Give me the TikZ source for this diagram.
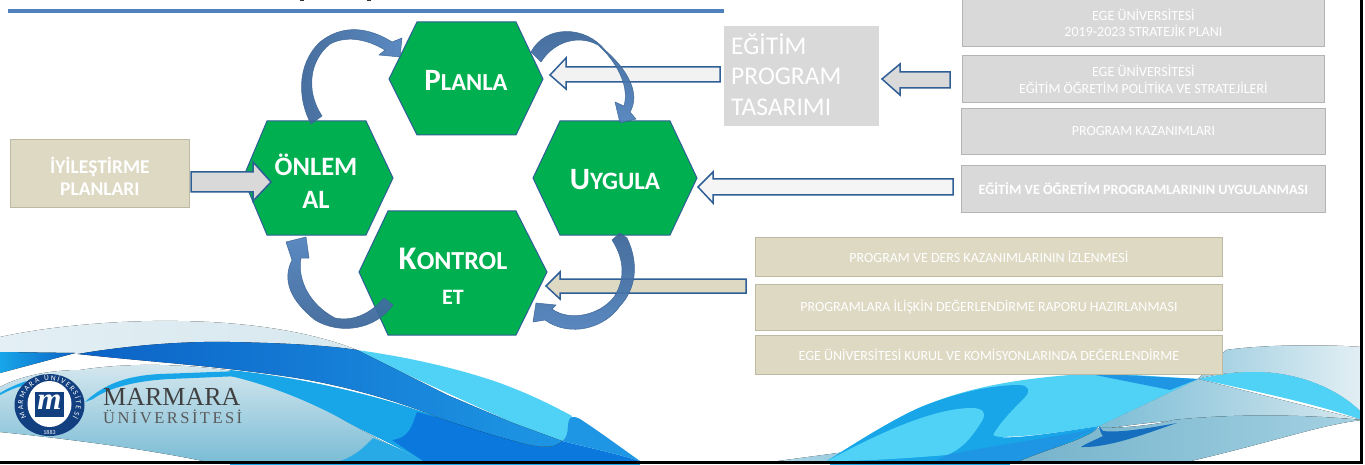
\documentclass[tikz,border=0pt]{standalone}
\usepackage{fontspec}
\setmainfont{Carlito}
\newfontfamily\serifm{Liberation Serif}
\newfontfamily\serifs[LetterSpace=15]{Liberation Serif}
\usetikzlibrary{decorations.text,shadings}
\definecolor{hexgreen}{HTML}{00B050}
\definecolor{hexline}{HTML}{2F5F96}
\definecolor{greybox}{HTML}{D9D9D9}
\definecolor{greyedge}{HTML}{B4B4B4}
\definecolor{beige}{HTML}{DDD9C3}
\definecolor{beigeedge}{HTML}{BDB9A3}
\definecolor{arrowline}{HTML}{2F5F96}
\definecolor{arcdark}{HTML}{3A6496}
\definecolor{arclight}{HTML}{4F81BD}
\definecolor{logoblue}{HTML}{123F80}
\definecolor{wdark}{HTML}{0B62C6}
\definecolor{wdeep}{HTML}{0A78DC}
\definecolor{wmid}{HTML}{1E96E4}
\definecolor{wlight}{HTML}{18A6E8}
\definecolor{wcyan}{HTML}{4FD2F5}
\definecolor{wteal}{HTML}{7CBDD6}
\definecolor{wpale}{HTML}{D7E8EF}
\tikzset{
  x=1pt,y=-1pt,
  hexa/.style={fill=hexgreen,draw=hexline,line width=1pt},
  hextext/.style={text=white,align=center,inner sep=0pt},
  gbox/.style={fill=greybox,draw=greyedge,line width=.8pt,text=white,align=center,inner sep=0pt},
  bbox/.style={fill=beige,draw=beigeedge,line width=.8pt,text=white,align=center,inner sep=0pt},
  blockarrow/.style={draw=arrowline,line width=1.5pt,line join=miter},
  arc1/.style={draw=arcdark,line width=.5pt,opacity=.93},
}
\newcommand{\fs}[1]{\fontsize{#1}{#1}\selectfont}
\begin{document}
\begin{tikzpicture}
\useasboundingbox (0,0) rectangle (1365,465);
\fill[white] (0,0) rectangle (1365,465);
% title descender marks
\fill[black!80] (300,0) rectangle (304,1.2);
\fill[black!80] (367,0) rectangle (371,1.2);
% --- left wave
\fill[left color=wpale!70,right color=wpale] (0,337) .. controls (50,326) and (120,320) .. (178,321) .. controls (260,322) and (320,335) .. (357,350) -- (78,354) -- (0,352) -- cycle;
\fill[top color=wpale,bottom color=wteal] (0,387) .. controls (20,376) and (50,370) .. (80,370) .. controls (130,362) and (190,364) .. (240,372) -- (300,390) -- (340,418) -- (380,440) -- (423,461) -- (203,461) .. controls (140,448) and (60,438) .. (0,432) -- cycle;
\fill[wlight] (0,393) .. controls (8,388) and (18,384) .. (26,381) -- (22,386) .. controls (14,388) and (8,391) .. (0,395) -- cycle;
\fill[wlight] (85,402) .. controls (100,388) and (120,376) .. (160,374) -- (240,371) -- (240,376) -- (170,379) .. controls (130,381) and (105,390) .. (93,399) -- cycle;
\fill[wlight] (230,370) .. controls (290,376) and (370,392) .. (440,418) -- (560,461) -- (423,461) .. controls (395,445) and (360,430) .. (340,418) .. controls (310,402) and (270,385) .. (230,376) -- cycle;
\fill[wdeep] (417,412) .. controls (412,425) and (410,438) .. (392,440) -- (423,461) -- (640,461) .. controls (610,452) and (590,448) .. (562,441) .. controls (555,447) and (548,448) .. (530,445) .. controls (490,435) and (450,420) .. (417,412) -- cycle;
\fill[wlight!85!wteal] (373,438) .. controls (360,452) and (350,458) .. (340,461) -- (423,461) .. controls (405,450) and (390,445) .. (373,438) -- cycle;
\fill[wcyan] (357,350) .. controls (400,356) and (450,366) .. (497,382) .. controls (525,392) and (550,404) .. (572,416) .. controls (566,425) and (570,436) .. (562,441) -- (513,423) -- (397,370) -- cycle;
\fill[wmid] (570,418) .. controls (573,416) and (576,417) .. (580,419) .. controls (600,432) and (620,447) .. (640,461) .. controls (610,452) and (590,448) .. (562,441) .. controls (570,436) and (566,425) .. (570,418) -- cycle;
\fill[left color=wdark,right color=wmid] (78,354) .. controls (125,346) and (180,341) .. (230,342) .. controls (280,343) and (325,345) .. (357,350) -- (397,370) -- (447,395) -- (513,423) -- (562,441) .. controls (555,447) and (548,448) .. (530,445) .. controls (490,435) and (470,428) .. (437,417) .. controls (390,398) and (340,385) .. (297,378) .. controls (220,366) and (150,362) .. (78,354) -- cycle;
\fill[left color=wlight,right color=wdark] (0,352) -- (75,353) -- (0,373) -- cycle;
% --- right wave
\fill[left color=wteal!75,right color=wpale!70] (1198,379) -- (1226,350) .. controls (1260,345) and (1320,344) .. (1362,347) -- (1362,413) .. controls (1340,390) and (1300,372) .. (1255,372) .. controls (1230,372) and (1210,375) .. (1198,379) -- cycle;
\fill[wcyan] (1198,379) .. controls (1220,374) and (1235,372) .. (1255,372) .. controls (1300,372) and (1340,390) .. (1362,413) -- (1362,420) .. controls (1320,405) and (1260,392) .. (1198,379) -- cycle;
\fill[left color=wteal,right color=wpale] (1099,426) -- (1198,379) -- (1362,420) .. controls (1300,414) and (1180,415) .. (1099,430) -- cycle;
\fill[left color=wteal!60,right color=wteal!80] (778,461) -- (845,452) -- (835,461) -- cycle;
\fill[wcyan] (827,461) .. controls (860,440) and (900,415) .. (926,405) .. controls (980,383) and (1040,376) .. (1103,373) -- (1198,379) -- (1099,426) .. controls (1060,432) and (1030,437) .. (993,437) -- (947,455) -- cycle;
\fill[wlight] (827,461) .. controls (860,440) and (900,415) .. (926,405) .. controls (950,396) and (985,385) .. (1020,385) .. controls (1030,386) and (1030,392) .. (1025,397) .. controls (1010,412) and (998,425) .. (993,435) .. controls (1000,440) and (1030,437) .. (1099,426) .. controls (1085,440) and (1080,447) .. (1060,450) .. controls (1030,458) and (1020,461) .. (1020,461) -- cycle;
\fill[wcyan] (827,461) .. controls (870,438) and (930,408) .. (972,408) .. controls (985,408) and (987,415) .. (980,424) .. controls (970,440) and (960,450) .. (947,455) .. controls (910,458) and (870,461) .. (827,461) -- cycle;
\fill[wmid] (947,455) .. controls (990,446) and (1050,438) .. (1099,428) -- (1025,461) -- (935,461) -- cycle;
\fill[wmid] (1085,373) -- (1198,379) -- (1170,390) -- cycle;
\fill[left color=wteal!95!black,right color=wteal!70] (1099,428) .. controls (1130,428) and (1160,424) .. (1173,420) .. controls (1230,414) and (1300,414) .. (1362,420) .. controls (1320,425) and (1280,440) .. (1191,461) -- (1020,461) .. controls (1050,448) and (1080,442) .. (1099,428) -- cycle;
\fill[wdeep!85!black!95] (1099,426) .. controls (1100,432) and (1102,435) .. (1103,436) .. controls (1095,440) and (1085,444) .. (1081,447) .. controls (1110,448) and (1150,432) .. (1177,423) .. controls (1150,428) and (1120,433) .. (1103,431) -- cycle;
% frame
\fill[wlight] (230,463) rectangle (640,465);
\fill[wlight] (830,463) rectangle (1010,465);
\fill[black] (1359.5,0) rectangle (1362.5,464);
\fill[black] (0,461) rectangle (1362.5,463.5);
% title rule
\fill[arclight] (8,9) rectangle (724,13);
% --- boxes
\node[gbox,minimum width=362pt,minimum height=47pt,anchor=north west,font=\fs{14}] (b1) at (962,-1) {EGE ÜNİVERSİTESİ\\[2pt]2019-2023  STRATEJİK PLANI};
\node[gbox,minimum width=362pt,minimum height=47pt,anchor=north west,font=\fs{14}] (b2) at (962,55) {EGE ÜNİVERSİTESİ\\[3pt]EĞİTİM ÖĞRETİM POLİTİKA VE STRATEJİLERİ};
\node[gbox,minimum width=364pt,minimum height=46pt,anchor=north west,font=\fs{14}] (b3) at (961,108) {PROGRAM KAZANIMLARI};
\node[gbox,minimum width=364pt,minimum height=47pt,anchor=north west,font=\bfseries\fs{14.2}] (b4) at (961,165) {EĞİTİM VE ÖĞRETİM PROGRAMLARININ UYGULANMASI};
\node[bbox,minimum width=467pt,minimum height=39pt,anchor=north west,font=\fs{14}] (c1) at (755,237) {PROGRAM VE DERS KAZANIMLARININ İZLENMESİ};
\node[bbox,minimum width=467pt,minimum height=46pt,anchor=north west,font=\fs{14}] (c2) at (755,283.5) {PROGRAMLARA İLİŞKİN DEĞERLENDİRME  RAPORU HAZIRLANMASI};
\node[bbox,minimum width=467pt,minimum height=39pt,anchor=north west,font=\fs{14}] (c3) at (755,335) {EGE ÜNİVERSİTESİ KURUL VE KOMİSYONLARINDA  DEĞERLENDİRME};
\node[bbox,minimum width=179pt,minimum height=68pt,anchor=north west,font=\bfseries\fs{19.5}] (iy) at (10,139) {\rule{0pt}{22pt}İYİLEŞTİRME\\[3pt]PLANLARI};
\node[fill=greybox,text=white,minimum width=155pt,minimum height=100pt,anchor=north west,inner sep=0pt,inner xsep=7pt,align=left,text width=141pt,font=\fs{25.5}] (tas) at (724,26) {EĞİTİM\\[5pt]PROGRAM\\[5pt]TASARIMI\rule[-4pt]{0pt}{0pt}};
% --- hexagons
\path[hexa] (389,79) -- (417,22) -- (516,22) -- (543,79) -- (516,135) -- (417,135) -- cycle;
\path[hexa] (243,178) -- (267,121) -- (366,121) -- (393,178) -- (366,235) -- (267,235) -- cycle;
\path[hexa] (533,178) -- (560,121) -- (670,121) -- (697,178) -- (670,235) -- (560,235) -- cycle;
\path[hexa] (359,272) -- (388,211) -- (516,211) -- (547,272) -- (516,335) -- (388,335) -- cycle;
\node[hextext,font=\bfseries\fs{24.5}] (plan) at (466,80) {{\fs{31}P}LANLA};
\node[hextext,font=\bfseries\fs{26.5}] (onlem) at (316,181) {ÖNLEM\\[6pt]AL};
\node[hextext,font=\bfseries\fs{25}] (uyg) at (615,180) {{\fs{31}U}YGULA};
\node[hextext,font=\bfseries\fs{26}] (kont) at (453,276) {{\fs{33}K}ONTROL\\[9pt]{\fs{22}ET}};
% --- block arrows
\draw[blockarrow,fill=black!5] (720,67) -- (566,67) -- (566,58) -- (550,75) -- (566,89) -- (566,82) -- (720,82) -- cycle;
\draw[blockarrow,fill=greybox] (950,72) -- (900,72) -- (900,64) -- (882,79) -- (900,95) -- (900,88) -- (950,88) -- cycle;
\draw[blockarrow,fill=black!4] (953,179) -- (713,179) -- (713,172) -- (698,187) -- (713,203) -- (713,195) -- (953,195) -- cycle;
\draw[blockarrow,fill=beige] (746,279) -- (560,279) -- (560,272) -- (546,286) -- (560,299) -- (560,293) -- (746,293) -- cycle;
\draw[blockarrow,fill=greybox] (191,172) -- (253,172) -- (253,162) -- (271,182) -- (253,201) -- (253,192) -- (191,192) -- cycle;
% --- curved arrows
\path[arc1,left color=arcdark,right color=arclight] (311,124) .. controls (298,100) and (296,65) .. (320,42) .. controls (340,26) and (365,25) .. (392,42) -- (402,38) -- (400,57) -- (379,55) -- (385,50) .. controls (365,38) and (345,36) .. (330,44) .. controls (310,60) and (305,90) .. (322,116) -- cycle;
\path[arc1,top color=arcdark,bottom color=arclight] (531,52) .. controls (545,25) and (585,25) .. (605,50) .. controls (630,72) and (640,95) .. (630,112) -- (636,119) -- (620,123) -- (615,102) -- (624,106) .. controls (630,85) and (615,60) .. (598,45) .. controls (580,35) and (555,40) .. (541,62) -- cycle;
\path[arc1,top color=arcdark,bottom color=arclight] (612,240) -- (620,233) -- (627,238) .. controls (640,265) and (635,290) .. (620,306) .. controls (605,328) and (570,338) .. (545,320) -- (533,322) -- (536,303) -- (556,305) -- (552,309) .. controls (570,322) and (600,315) .. (614,297) .. controls (625,280) and (625,260) .. (612,240) -- cycle;
\path[arc1,top color=arclight,bottom color=arcdark] (393,305) .. controls (375,330) and (340,335) .. (315,320) .. controls (290,300) and (282,280) .. (292,260) -- (286,242) -- (306,237) -- (309,258) -- (301,258) .. controls (297,280) and (310,305) .. (335,318) .. controls (355,322) and (372,312) .. (384,298) -- cycle;
% --- logo
\begin{scope}
\clip (0,340) rectangle (100,435);
\fill[logoblue] (49.5,405) ellipse [x radius=35,y radius=31];
\fill[white] (49.5,404) ellipse [x radius=22,y radius=23];
\fill[logoblue] (35,392) rectangle (64,417);
\node[text=white,font=\serifm\bfseries\itshape\fs{31},inner sep=0pt] (logom) at (49.5,402) {m};
\node[text=white,font=\fs{6},inner sep=0pt] (logoy) at (49.5,432) {1883};
\end{scope}
\path[postaction={decorate},decoration={text along path,text align={fit to path},text={|\fs{7.5}\color{white}|MARMARA ÜNİVERSİTESİ}}] (26.5,417.25) arc[start angle=150,end angle=390,x radius=26.5,y radius=24.5];
\node[anchor=west,inner sep=0pt,text=black!75,font=\serifm\fs{26}] (marm) at (103,397) {MARMARA};
\node[anchor=west,inner sep=0pt,text=black!65,font=\serifs\fs{16.5}] (uni) at (103,417) {ÜNİVERSİTESİ};
\end{tikzpicture}
\end{document}
